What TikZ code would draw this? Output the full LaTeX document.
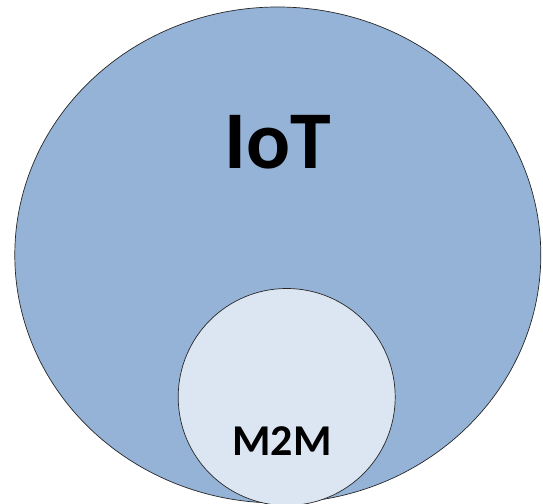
\documentclass[tikz,border=0pt]{standalone}
\usepackage{fontspec}
\setmainfont{Carlito}
\usepackage{tikz}
\definecolor{iotblue}{HTML}{95B3D7}
\definecolor{mtmblue}{HTML}{DCE6F2}
\def \IoT{(277.8pt,248pt) ellipse (263pt and 248pt)}
\def \MtM{(286.7pt,106pt) circle (108.5pt)}
\def \R{(0,0) rectangle (543pt,503pt)}

\begin{document}
\begin{tikzpicture}[draw=black!85, line width=0.7pt,
  label/.style={anchor=base, text=black, font=\bfseries}]
\useasboundingbox \R;
\clip \R; % page frame
\draw[fill=iotblue] \IoT; % outer set
\draw[fill=mtmblue] \MtM; % inner set
\node[label, font=\bfseries\fontsize{82}{82}\selectfont] (iot) at (278pt,334pt) {IoT};
\node[label, font=\bfseries\fontsize{44}{44}\selectfont] (mtm) at (282pt,48pt) {M2M};
\end{tikzpicture}
\end{document}
